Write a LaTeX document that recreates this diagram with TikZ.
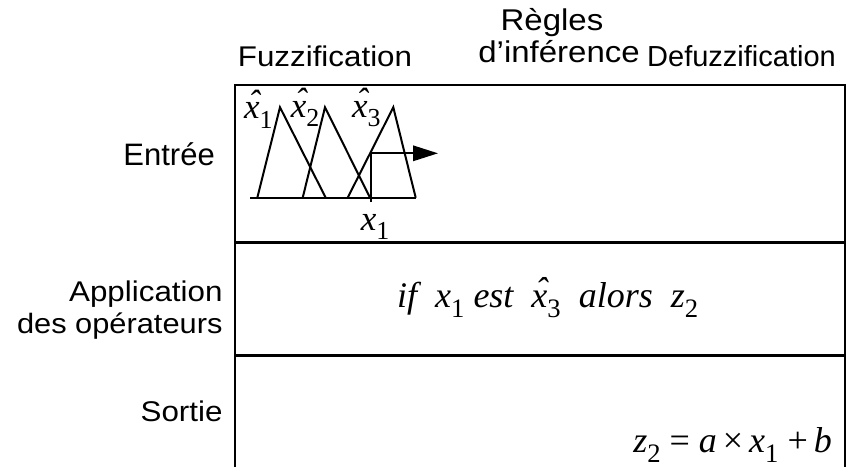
\documentclass[tikz,border=0pt]{standalone}
\usepackage{fontspec}
\setmainfont{Liberation Serif}
\setsansfont{Liberation Sans}
\newfontfamily\headfont{Liberation Sans}[FakeStretch=1.1]
\usetikzlibrary{arrows.meta}
\newcommand{\sub}[1]{\raisebox{-0.28em}{\scalebox{0.74}{\upshape #1}}}
\newcommand{\hatx}[1]{\makebox[0pt][l]{\kern0.11em\raisebox{0.12em}{\char"02C6}}\textit{x}\sub{#1}}

\begin{document}
\begin{tikzpicture}[x=1pt, y=-1pt,
  lab/.style={font=\headfont\fontsize{28.5}{28.5}\selectfont, inner sep=0pt},
  mth/.style={font=\rmfamily\itshape\fontsize{35}{35}\selectfont, inner sep=0pt},
  frame/.style={line width=2.4pt},
  tri/.style={line width=2pt, line join=miter}]
  \useasboundingbox (0,0) rectangle (854,467);
  % column titles
  \node[lab, anchor=base] (fuzz) at (325,66.7) {Fuzzification};
  \node[lab, anchor=base, font=\headfont\fontsize{30}{30}\selectfont] (regles) at (552,30) {Règles};
  \node[lab, anchor=base east, font=\headfont\fontsize{30}{30}\selectfont] (infer) at (640,62) {d’inférence};
  \node[lab, anchor=base east, font=\sffamily\fontsize{29}{29}\selectfont] (defuzz) at (836,66.7) {Defuzzification};
  % row titles
  \node[lab, anchor=base east, font=\sffamily\fontsize{31}{31}\selectfont] (entree) at (215,165) {Entrée};
  \node[lab, anchor=base east] (appli) at (222.7,301.7) {Application};
  \node[lab, anchor=base east, font=\headfont\fontsize{28}{28}\selectfont] (operat) at (222.7,333) {des opérateurs};
  \node[lab, anchor=base east] (sortie) at (222.7,421) {Sortie};
  % table
  \draw[frame] (235,467) -- (235,85) -- (845,85) -- (845,467);
  \draw[frame] (235,242.5) -- (845,242.5);
  \draw[frame] (235,355.5) -- (845,355.5);
  % membership functions
  \draw[tri] (250,197.7) -- (416,197.7);
  \draw[tri] (257.3,197.7) -- (280,107.3) -- (325.7,197.7);
  \draw[tri] (302.7,197.7) -- (325,107.3) -- (370,197.7);
  \draw[tri] (347.7,197.7) -- (393.3,107.3) -- (415.7,197.7);
  \node[mth, anchor=base west] (xh1) at (244,118.3) {\hatx{1}};
  \node[mth, anchor=base west] (xh2) at (290.7,117) {\hatx{2}};
  \node[mth, anchor=base west] (xh3) at (352,117) {\hatx{3}};
  \coordinate (xbase) at (370.7,202);
  \coordinate (xcut) at (370.7,153.3);
  \coordinate (xout) at (438,153.3);
  \draw[tri, -{Triangle[length=25pt,width=15.4pt]}] (xbase) -- (xcut) -- (xout);
  \node[mth, anchor=base west] (x1) at (360.7,230) {x\sub{1}};
  % rule and output
  \node[mth, anchor=base west, font=\rmfamily\itshape\fontsize{36}{36}\selectfont] (rule) at (397,307)
    {if\ \ x\sub{1} est\ \ \hatx{3}\ \ alors\ \ z\sub{2}};
  \node[mth, anchor=base east, font=\rmfamily\itshape\fontsize{36}{36}\selectfont] (outp) at (832,452)
    {z\sub{2}\ {\upshape =}\ a\,{\upshape ×}\,x\sub{1}\ {\upshape +}\,b};
\end{tikzpicture}
\end{document}
